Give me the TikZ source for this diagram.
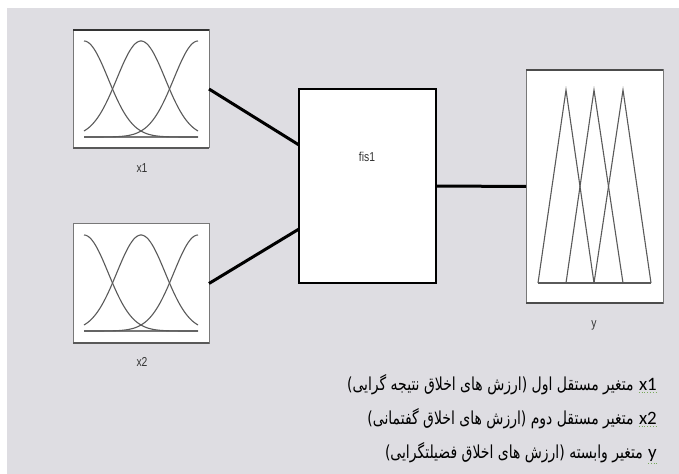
\documentclass[tikz,border=0pt]{standalone}
\usepackage{fontspec}
\TeXXeTstate=1
\newfontfamily\arabicfont[Script=Arabic,FakeStretch=0.78]{DejaVu Sans}
\newfontfamily\latinfont{Carlito}
\newfontfamily\labelfont[FakeStretch=0.8]{Liberation Sans}
\definecolor{bggray}{RGB}{222,221,226}
\definecolor{curvegray}{RGB}{90,90,90}
\definecolor{framegray}{RGB}{120,120,120}
\definecolor{ulgreen}{RGB}{120,170,90}
\tikzset{
  mfbox/.style={draw=framegray, line width=1bp, fill=white, inner sep=0pt, outer sep=0pt},
  fisbox/.style={draw=black, line width=2.5bp, fill=white, inner sep=0pt, outer sep=0pt},
  topedge/.style={draw=black!80, line width=2.5bp},
  botedge/.style={draw=black!65, line width=1.5bp},
  curve/.style={draw=curvegray, line width=1.1bp},
  baseln/.style={draw=framegray, line width=1.6bp},
  link/.style={draw=black, line width=3bp},
  lbl/.style={font=\labelfont\fontsize{13}{13}\selectfont, text=black!80, inner sep=0pt},
  vartxt/.style={font=\latinfont\fontsize{19}{20}\selectfont, inner sep=0pt, anchor=base east},
  fatxt/.style={font=\arabicfont\fontsize{18}{20}\selectfont, inner sep=0pt, anchor=base east},
  uline/.style={draw=ulgreen, line width=0.8bp, dotted}
}
\begin{document}
\begin{tikzpicture}[x=1bp,y=-1bp]
\useasboundingbox (0,0) rectangle (679,474);
\fill[white] (0,0) rectangle (679,474);
\fill[bggray] (7,8) rectangle (679,474);

% input boxes
\node[mfbox, minimum width=136bp, minimum height=118bp] (x1box) at (141,89) {};
\node[mfbox, minimum width=136bp, minimum height=119bp] (x2box) at (141,283.5) {};
\draw[topedge] (x1box.north west) -- (x1box.north east);
\draw[botedge] (x1box.south west) -- (x1box.south east);
\draw[botedge] (x2box.south west) -- (x2box.south east);

% gaussian membership functions x1
\draw[baseln] (84,137) -- (198,137);
\draw[curve] plot[domain=84:198, samples=70] (\x, {137-96*exp(-((\x-84)^2)/1171)});
\draw[curve] plot[domain=84:198, samples=70] (\x, {137-96*exp(-((\x-141)^2)/1171)});
\draw[curve] plot[domain=84:198, samples=70] (\x, {137-96*exp(-((\x-198)^2)/1171)});
% x2
\draw[baseln] (84,331) -- (198,331);
\draw[curve] plot[domain=84:198, samples=70] (\x, {331-96*exp(-((\x-84)^2)/1171)});
\draw[curve] plot[domain=84:198, samples=70] (\x, {331-96*exp(-((\x-141)^2)/1171)});
\draw[curve] plot[domain=84:198, samples=70] (\x, {331-96*exp(-((\x-198)^2)/1171)});

% fis box
\node[fisbox, minimum width=137bp, minimum height=194bp] (fis) at (367.5,186) {};

% output box
\node[mfbox, minimum width=137bp, minimum height=233bp] (ybox) at (594.5,186.5) {};
\draw[draw=black!70, line width=1.5bp] (ybox.north west) -- (ybox.north east);
\draw[draw=black!70, line width=1.5bp] (ybox.south west) -- (ybox.south east);
\draw[curve] (538,283) -- (651,283);
\draw[curve] (538,283) -- (566,90) -- (594,283);
\draw[curve] (566,283) -- (594,90) -- (623,283);
\draw[curve] (594,283) -- (623,90) -- (651,283);

% labels
\node[lbl] (lx1) at (142,168) {x1};
\node[lbl] (lx2) at (142,362) {x2};
\node[lbl] (ly) at (594,325) {y};
\node[lbl] (lfis) at (367,157) {fis1};

% connectors
\draw[link] (x1box.east) -- ([yshift=41bp]fis.west);
\draw[link] (x2box.east) -- ([yshift=-43bp]fis.west);
\draw[link] (fis.east) -- (ybox.west);

% legend text
\node[vartxt] (v1) at (657,390) {x1};
\node[vartxt] (v2) at (657,424) {x2};
\node[vartxt] (v3) at (657,458) {y};
\draw[uline] ([yshift=-2.5bp]v1.base west) -- ([yshift=-2.5bp]v1.base east);
\draw[uline] ([yshift=-2.5bp]v2.base west) -- ([yshift=-2.5bp]v2.base east);
\draw[uline] ([yshift=-5bp]v3.base west) -- ([yshift=-5bp]v3.base east);
\node[fatxt] (f1) at ([xshift=-5bp]v1.base west) {\beginR متغیر مستقل اول (ارزش های اخلاق نتیجه گرایی)\endR};
\node[fatxt] (f2) at ([xshift=-5bp]v2.base west) {\beginR متغیر مستقل دوم (ارزش های اخلاق گفتمانی)\endR};
\node[fatxt] (f3) at ([xshift=-5bp]v3.base west) {\beginR متغیر وابسته (ارزش های اخلاق فضیلتگرایی)\endR};
\end{tikzpicture}
\end{document}
